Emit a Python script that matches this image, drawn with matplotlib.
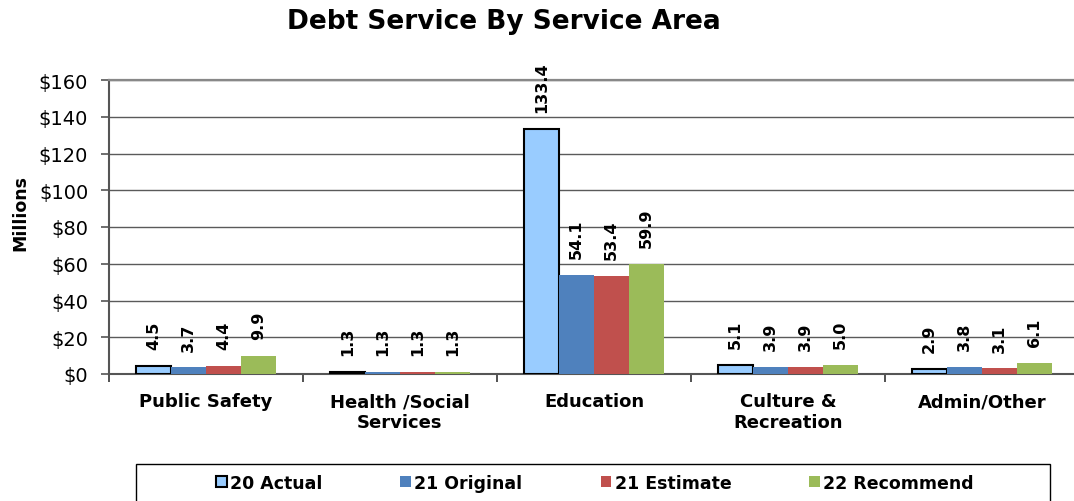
import numpy as np
import matplotlib
matplotlib.use('Agg')
import matplotlib.pyplot as plt
from matplotlib.patches import Rectangle

# data (millions)
categories = ['Public Safety', 'Health /Social\nServices', 'Education', 'Culture &\nRecreation', 'Admin/Other']
series_names = ['20 Actual', '21 Original', '21 Estimate', '22 Recommend']
actual_20 = [4.5, 1.3, 133.4, 5.1, 2.9]
original_21 = [3.7, 1.3, 54.1, 3.9, 3.8]
estimate_21 = [4.4, 1.3, 53.4, 3.9, 3.1]
recommend_22 = [9.9, 1.3, 59.9, 5.0, 6.1]
yticks = [0, 20, 40, 60, 80, 100, 120, 140, 160]

colors = ['#99CCFF', '#4F81BD', '#C0504D', '#9BBB59']
edges = ['black', 'none', 'none', 'none']
series = [actual_20, original_21, estimate_21, recommend_22]

W, H = 1074, 502
fig = plt.figure(figsize=(W / 100, H / 100), dpi=100)
ax = fig.add_axes([109 / W, 1 - 375 / H, 970 / W, (375 - 81) / H])

x = np.arange(len(categories))
bw = 0.18
for i, (vals, c, ec, name) in enumerate(zip(series, colors, edges, series_names)):
    pos = x + (i - 1.5) * bw
    ax.bar(pos, vals, width=bw, color=c, edgecolor=ec, linewidth=1.5 if ec != 'none' else 0,
           label=name, zorder=3)
    for px, v in zip(pos, vals):
        ax.annotate('{:.1f}'.format(v), (px, v), xytext=(0, 12), textcoords='offset points',
                    rotation=90, ha='center', va='bottom', fontsize=11.5, fontweight='bold',
                    annotation_clip=False)

ax.set_xlim(-0.5, len(categories) - 0.5)
ax.set_ylim(0, 160)
ax.set_yticks(yticks)
ax.set_yticklabels(['${}'.format(t) for t in yticks], fontsize=14)
ax.yaxis.grid(True, color='#5a5a5a', linewidth=1.0, zorder=0)
ax.set_axisbelow(True)

ax.set_xticks(x)
ax.set_xticklabels(categories, fontsize=13, fontweight='bold')
ax.set_xticks(np.arange(len(categories) + 1) - 0.5, minor=True)
ax.tick_params(axis='x', which='major', length=0, pad=13)
ax.tick_params(axis='x', which='minor', length=6, width=1.2, color='#333333', direction='out')
ax.tick_params(axis='y', length=6, width=1.2, color='#555555', direction='out', pad=9)

for s in ['left', 'bottom']:
    ax.spines[s].set_color('#555555')
    ax.spines[s].set_linewidth(1.5)
ax.spines['top'].set_color('#888888')
ax.spines['top'].set_linewidth(1.6)
ax.spines['right'].set_visible(False)

fig.text(20 / W, 1 - 213 / H, 'Millions', rotation=90, ha='center', va='center',
         fontsize=12.5, fontweight='bold')
fig.text(504 / W, 1 - 22 / H, 'Debt Service By Service Area', ha='center', va='center',
         fontsize=19, fontweight='bold')

# legend box
fig.patches.append(Rectangle((136 / W, -0.05), (1050 - 136) / W, 0.05 + (502 - 465) / H,
                             transform=fig.transFigure, fill=False, edgecolor='black',
                             linewidth=1.0))
fig.legend(loc='center', bbox_to_anchor=(595 / W, 1 - 484 / H), ncol=4, frameon=False,
           prop={'size': 12.5, 'weight': 'bold'}, handlelength=0.6, handleheight=0.6,
           handletextpad=0.2, columnspacing=4.5)

fig.savefig('out.png', dpi=100)
